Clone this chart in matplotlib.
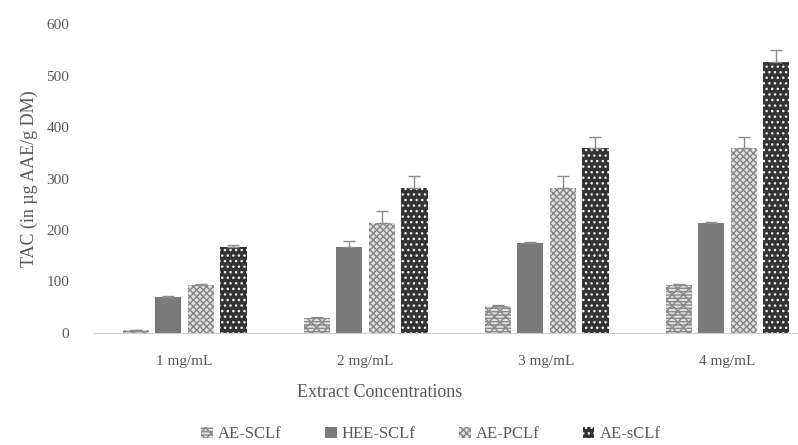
import numpy as np
import matplotlib.pyplot as plt

plt.rcParams['font.family'] = ['Liberation Serif', 'DejaVu Serif']
plt.rcParams['hatch.linewidth'] = 1.0

concs = ["1 mg/mL", "2 mg/mL", "3 mg/mL", "4 mg/mL"]
series = ["AE-SCLf", "HEE-SCLf", "AE-PCLf", "AE-sCLf"]
ae_scl = [5, 29, 52, 93]
hee_scl = [70, 167, 175, 214]
ae_pcl = [93, 213, 282, 359]
ae_scl2 = [167, 282, 359, 526]
err_ae_scl = [1, 2, 3, 2]
err_hee_scl = [2, 12, 2, 2]
err_ae_pcl = [3, 24, 22, 22]
err_ae_scl2 = [4, 23, 22, 24]

values = [ae_scl, hee_scl, ae_pcl, ae_scl2]
errors = [err_ae_scl, err_hee_scl, err_ae_pcl, err_ae_scl2]
faces = ['#e4e4e4', '#7a7a7a', '#e0e0e0', '#333333']
hatches = ['-----xxx', None, 'xxxxx', '...']
hcols = ['#8a8a8a', '#7a7a7a', '#858585', '#f2f2f2']

txt = '#595959'
fig = plt.figure(figsize=(7.98, 4.45), dpi=100)
ax = fig.add_axes([0.118, 0.2517, 0.907, 0.6943])

x = np.arange(len(concs))
w = 0.145
pitch = 0.18
for i in range(4):
    pos = x + (i - 1.5) * pitch
    ax.bar(pos, values[i], w, color=faces[i], hatch=hatches[i],
           edgecolor=hcols[i], linewidth=0, label=series[i])
    ax.errorbar(pos, values[i], yerr=[np.zeros(4), errors[i]], fmt='none',
                ecolor='#8c8c8c', elinewidth=1, capsize=4, capthick=1)

ax.set_xlim(-0.5, 3.5)
ax.set_ylim(0, 600)
ax.set_yticks(np.arange(0, 601, 100))
ax.set_xticks(x)
ax.set_xticklabels(concs)
for s in ['top', 'right', 'left']:
    ax.spines[s].set_visible(False)
ax.spines['bottom'].set_color('#d0d0d0')
ax.tick_params(axis='both', length=0, colors=txt, labelsize=11)
ax.tick_params(axis='y', pad=18)
ax.tick_params(axis='x', pad=16)
ax.set_ylabel("TAC (in µg AAE/g DM)", fontsize=13, color=txt, labelpad=6)
ax.set_xlabel("Extract Concentrations", fontsize=13, color=txt)
ax.xaxis.set_label_coords(0.395, -0.165)

fig.legend(loc='lower center', bbox_to_anchor=(0.54, -0.028), ncol=4, frameon=False,
           fontsize=12, handlelength=0.7, handleheight=0.7, handletextpad=0.3,
           columnspacing=2.6, labelcolor=txt)

fig.savefig('out.png', dpi=100)
